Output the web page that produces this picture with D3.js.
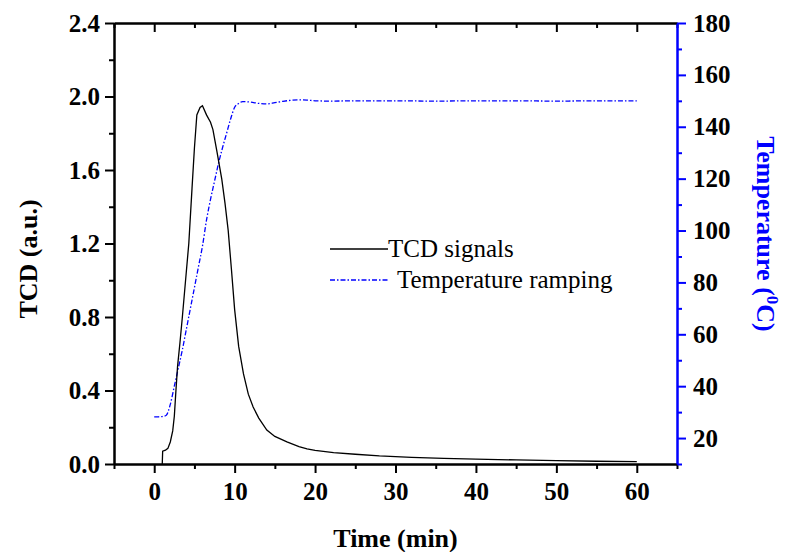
<!DOCTYPE html>
<meta charset="utf-8">
<style>
    body { margin: 0; background: #fff; }
    .domain { stroke-width: 2; }
    .tick line { stroke-width: 2; }
    .title { font-family: "Liberation Serif", "Times New Roman", serif; font-weight: bold; font-size: 26px; }
    .legend text { font-family: "Liberation Serif", "Times New Roman", serif; font-size: 25px; }
</style>
<body>
<script src="https://d3js.org/d3.v7.min.js"></script>
<script>
    // TCD signal (time in min, a.u.)
    let tcdTime = [1.0, 1.05, 1.4, 1.7, 2.0, 2.3, 2.5, 2.7, 2.9, 3.2, 3.5, 4.0, 4.3, 4.7, 5.0, 5.3, 5.7, 6.0, 6.5, 7.0, 7.3, 7.8, 8.4, 8.8, 9.2, 9.6, 10.0, 10.5, 11.1, 11.7, 12.3, 13, 14, 15, 16.5, 18, 19, 20, 22.3, 25, 28, 32, 36, 40, 45, 50, 55, 60];
    let tcdValue = [0, 0.07, 0.075, 0.085, 0.12, 0.18, 0.26, 0.4, 0.53, 0.66, 0.8, 1.05, 1.2, 1.5, 1.72, 1.9, 1.94, 1.95, 1.9, 1.86, 1.82, 1.7, 1.55, 1.42, 1.27, 1.06, 0.84, 0.64, 0.49, 0.38, 0.31, 0.25, 0.185, 0.15, 0.12, 0.095, 0.082, 0.074, 0.062, 0.053, 0.044, 0.036, 0.031, 0.027, 0.022, 0.018, 0.015, 0.0125];

    // Temperature ramping (time in min, deg C)
    let tempTime = [0, 0.5, 1.0, 1.5, 2.0, 2.5, 3.0, 3.5, 4.0, 4.5, 5.0, 5.5, 6.0, 6.5, 7.0, 7.5, 8.0, 8.5, 9.0, 9.5, 10.0, 10.5, 11, 12, 13, 14, 15, 16, 17, 18, 19, 20, 22, 25, 30, 35, 40, 45, 50, 55, 60];
    let tempValue = [28.2, 28.2, 28.3, 28.8, 33, 40, 47, 54, 62, 70, 78, 86, 94, 104, 112, 119, 126, 132, 137.5, 143, 147.5, 149, 149.7, 149.5, 149, 148.8, 149.3, 149.8, 150.2, 150.4, 150.3, 150.0, 149.9, 150, 150, 149.9, 150, 150, 149.9, 150, 150];

    let xMajor = [0, 10, 20, 30, 40, 50, 60];
    let xMinor = [-5, 5, 15, 25, 35, 45, 55, 65];
    let yMajor = [0, 0.4, 0.8, 1.2, 1.6, 2.0, 2.4];
    let yMinor = [0.2, 0.6, 1.0, 1.4, 1.8, 2.2];
    let tMajor = [20, 40, 60, 80, 100, 120, 140, 160, 180];
    let tMinor = [10, 30, 50, 70, 90, 110, 130, 150, 170];

    let pLeft = 114, pRight = 677, pTop = 23, pBottom = 464;

    let svg = d3.select("body").append("svg")
        .attr("width", 786)
        .attr("height", 552);

    let xScale = d3.scaleLinear().domain([-5, 65]).range([pLeft, pRight]);
    let yScale = d3.scaleLinear().domain([0, 2.4]).range([pBottom, pTop]);
    let tScale = d3.scaleLinear().domain([10, 180]).range([pBottom, pTop]);

    function tickText(g) {
        g.selectAll(".tick text")
            .style("font-family", "'Liberation Serif', 'Times New Roman', serif")
            .style("font-weight", "bold")
            .style("font-size", "25px")
            .style("fill", "#000");
    }

    // minor ticks first
    svg.append("g").attr("transform", "translate(0," + pBottom + ")")
        .call(d3.axisBottom(xScale).tickValues(xMinor).tickSize(5).tickSizeOuter(0).tickFormat(""));
    svg.append("g").attr("transform", "translate(0," + pTop + ")")
        .call(d3.axisBottom(xScale).tickValues(xMinor).tickSize(5).tickSizeOuter(0).tickFormat(""));
    svg.append("g").attr("transform", "translate(" + pLeft + ",0)")
        .call(d3.axisLeft(yScale).tickValues(yMinor).tickSize(5).tickSizeOuter(0).tickFormat(""));
    svg.append("g").attr("transform", "translate(" + pRight + ",0)")
        .attr("color", "#0000ff")
        .call(d3.axisRight(tScale).tickValues(tMinor).tickSize(5).tickSizeOuter(0).tickFormat(""));

    // major ticks
    svg.append("g").attr("transform", "translate(0," + pBottom + ")")
        .call(d3.axisBottom(xScale).tickValues(xMajor).tickSize(9).tickPadding(9).tickSizeOuter(0).tickFormat(d3.format("d")))
        .call(tickText);
    svg.append("g").attr("transform", "translate(0," + pTop + ")")
        .call(d3.axisBottom(xScale).tickValues(xMajor).tickSize(9).tickSizeOuter(0).tickFormat(""));
    svg.append("g").attr("transform", "translate(" + pLeft + ",0)")
        .call(d3.axisLeft(yScale).tickValues(yMajor).tickSize(9).tickPadding(5).tickSizeOuter(0).tickFormat(d3.format(".1f")))
        .call(tickText);
    svg.append("g").attr("transform", "translate(" + pRight + ",0)")
        .attr("color", "#0000ff")
        .call(d3.axisRight(tScale).tickValues(tMajor).tickSize(9).tickPadding(7).tickSizeOuter(0).tickFormat(d3.format("d")))
        .call(tickText);

    let tcdData = tcdTime.map(function(t, i) { return [t, tcdValue[i]]; });
    let tempData = tempTime.map(function(t, i) { return [t, tempValue[i]]; });

    let tcdLine = d3.line()
        .x(function(d) { return xScale(d[0]); })
        .y(function(d) { return yScale(d[1]); });
    let tempLine = d3.line()
        .x(function(d) { return xScale(d[0]); })
        .y(function(d) { return tScale(d[1]); })
        .curve(d3.curveMonotoneX);

    svg.append("path").datum(tempData)
        .attr("d", tempLine)
        .attr("fill", "none")
        .attr("stroke", "#0000ff")
        .attr("stroke-width", 1.3)
        .attr("stroke-dasharray", "5,2,1.5,2");

    svg.append("path").datum(tcdData)
        .attr("d", tcdLine)
        .attr("fill", "none")
        .attr("stroke", "#000")
        .attr("stroke-width", 1.3);

    // legend
    let legend = svg.append("g").attr("class", "legend");
    legend.append("line")
        .attr("x1", 330).attr("x2", 388).attr("y1", 249).attr("y2", 249)
        .attr("stroke", "#000").attr("stroke-width", 1.3);
    legend.append("text").attr("x", 388).attr("y", 257).text("TCD signals");
    legend.append("line")
        .attr("x1", 330).attr("x2", 388).attr("y1", 280).attr("y2", 280)
        .attr("stroke", "#0000ff").attr("stroke-width", 1.3)
        .attr("stroke-dasharray", "5,2,1.5,2");
    legend.append("text").attr("x", 397).attr("y", 288).text("Temperature ramping");

    // axis titles
    svg.append("text")
        .attr("class", "title")
        .attr("x", (pLeft + pRight) / 2)
        .attr("y", 547)
        .attr("text-anchor", "middle")
        .text("Time (min)");

    svg.append("text")
        .attr("class", "title")
        .attr("transform", "translate(37,259) rotate(-90)")
        .attr("text-anchor", "middle")
        .text("TCD (a.u.)");

    let rt = svg.append("text")
        .attr("class", "title")
        .attr("fill", "#0000ff")
        .attr("transform", "translate(757,234) rotate(90)")
        .attr("text-anchor", "middle");
    rt.append("tspan").text("Temperature (");
    rt.append("tspan").attr("dy", -10).attr("font-size", "17px").text("0");
    rt.append("tspan").attr("dy", 10).text("C)");
</script>
</body>
